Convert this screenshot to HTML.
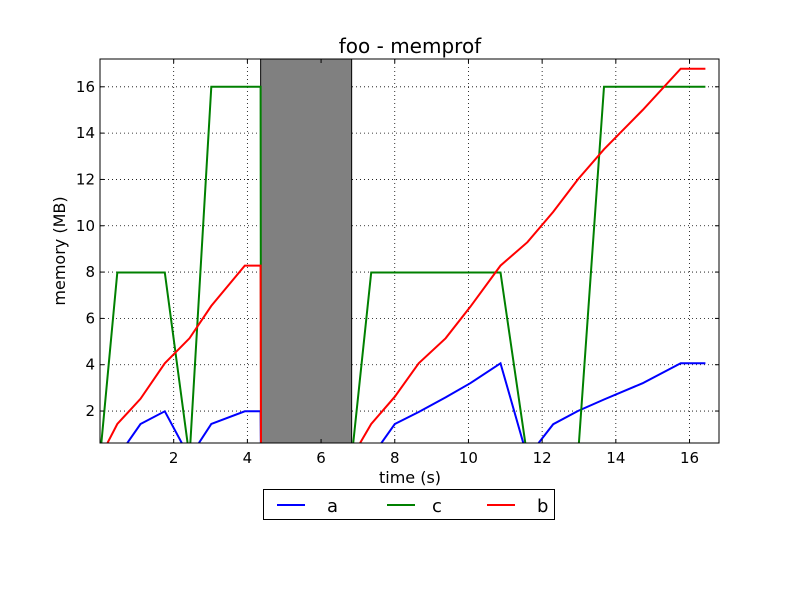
<!DOCTYPE html>
<html><head><meta charset="utf-8"><style>
body{margin:0;background:#fff}
svg{display:block;font-family:"DejaVu Sans","Liberation Sans",sans-serif}
</style></head><body>
<svg id="chart" width="800" height="600">
<rect width="800" height="600" fill="#fff"/>
<text x="410" y="53" font-size="20" text-anchor="middle">foo - memprof</text>
<defs><clipPath id="clip"><rect x="100" y="59" width="619" height="384"/></clipPath></defs>
<g id="grid"></g>
<g id="span"></g>
<g id="lines" clip-path="url(#clip)"></g>
<rect x="100" y="59" width="619" height="384" fill="none" stroke="#000" stroke-width="1"/>
<g id="ticks"></g>
<text x="410" y="483" font-size="16" text-anchor="middle">time (s)</text>
<text transform="translate(65,251) rotate(-90)" font-size="16" text-anchor="middle">memory (MB)</text>
<g>
<rect x="263.5" y="489.5" width="291" height="30" fill="#fff" stroke="#000"/>
<g><line x1="277" y1="505" x2="305" y2="505" stroke="#0000ff" stroke-width="2"/><text x="327" y="512" font-size="18">a</text></g>
<g><line x1="387" y1="505" x2="415" y2="505" stroke="#008000" stroke-width="2"/><text x="432" y="512" font-size="18">c</text></g>
<g><line x1="487" y1="505" x2="515" y2="505" stroke="#ff0000" stroke-width="2"/><text x="537" y="512" font-size="18">b</text></g>
</g>
</svg>
<script>
const times = [0,0.47,1.1,1.76,2.43,3.02,3.93,4.36,4.37,6.83,7.36,8.0,8.65,9.38,10.05,10.87,11.6,12.3,12.97,13.68,14.73,15.76,16.43];
const seriesA = [0,0,1.44,1.99,0,1.44,1.99,1.99,0,0,0,1.44,1.96,2.59,3.2,4.06,0,1.43,2.0,2.5,3.2,4.06,4.06];
const seriesC = [0,7.98,7.98,7.98,0,16,16,16,0,0,7.98,7.98,7.98,7.98,7.98,7.98,0,0,0,16,16,16,16];
const seriesB = [0,1.44,2.53,4.06,5.14,6.54,8.28,8.28,0,0,1.44,2.62,4.06,5.14,6.5,8.28,9.29,10.6,12.0,13.3,15.0,16.78,16.78];
const spanRange = [4.36,6.83];
const xTicks = [2,4,6,8,10,12,14,16];
const yTicks = [2,4,6,8,10,12,14,16];
const xMin=0, xMax=16.8, yMin=0.62, yMax=17.2;
const L=100,R=719,T=59,B=443;
const sx=v=>L+(v-xMin)/(xMax-xMin)*(R-L);
const sy=v=>B-(v-yMin)/(yMax-yMin)*(B-T);
const NS="http://www.w3.org/2000/svg";
function mk(tag,attrs,parent){const e=document.createElementNS(NS,tag);for(const k in attrs)e.setAttribute(k,attrs[k]);parent.appendChild(e);return e;}
const grid=document.getElementById('grid'),ticks=document.getElementById('ticks');
xTicks.forEach(t=>{const x=sx(t);
 const g=mk('line',{x1:x,x2:x,y1:T,y2:B,stroke:'#000','stroke-dasharray':'1,3','stroke-width':0.8},grid);
 
 
 mk('line',{x1:x,x2:x,y1:B,y2:B-4,stroke:'#000'},ticks);
 mk('line',{x1:x,x2:x,y1:T,y2:T+4,stroke:'#000'},ticks);
 const tx=mk('text',{x:x,y:463,'font-size':15,'text-anchor':'middle'},ticks);tx.textContent=t;
 
 
});
yTicks.forEach(t=>{const y=sy(t);
 const g=mk('line',{x1:L,x2:R,y1:y,y2:y,stroke:'#000','stroke-dasharray':'1,3','stroke-width':0.8},grid);
 
 
 mk('line',{x1:L,x2:L+4,y1:y,y2:y,stroke:'#000'},ticks);
 mk('line',{x1:R,x2:R-4,y1:y,y2:y,stroke:'#000'},ticks);
 const tx=mk('text',{x:95,y:y+5,'font-size':15,'text-anchor':'end'},ticks);tx.textContent=t;
 
 
});
const sp=mk('rect',{x:sx(spanRange[0]),y:T,width:sx(spanRange[1])-sx(spanRange[0]),height:B-T,fill:'#808080',stroke:'#000','stroke-width':1},document.getElementById('span'));


const lines=document.getElementById('lines');
[[seriesA,'#0000ff','line-a'],[seriesC,'#008000','line-c'],[seriesB,'#ff0000','line-b']].forEach(([d,c,n])=>{
 const pts=times.map((t,i)=>sx(t).toFixed(1)+','+sy(d[i]).toFixed(1)).join(' ');
 const p=mk('polyline',{points:pts,fill:'none',stroke:c,'stroke-width':2,'stroke-linejoin':'miter'},lines);
 
 
});
</script>
</body></html>
